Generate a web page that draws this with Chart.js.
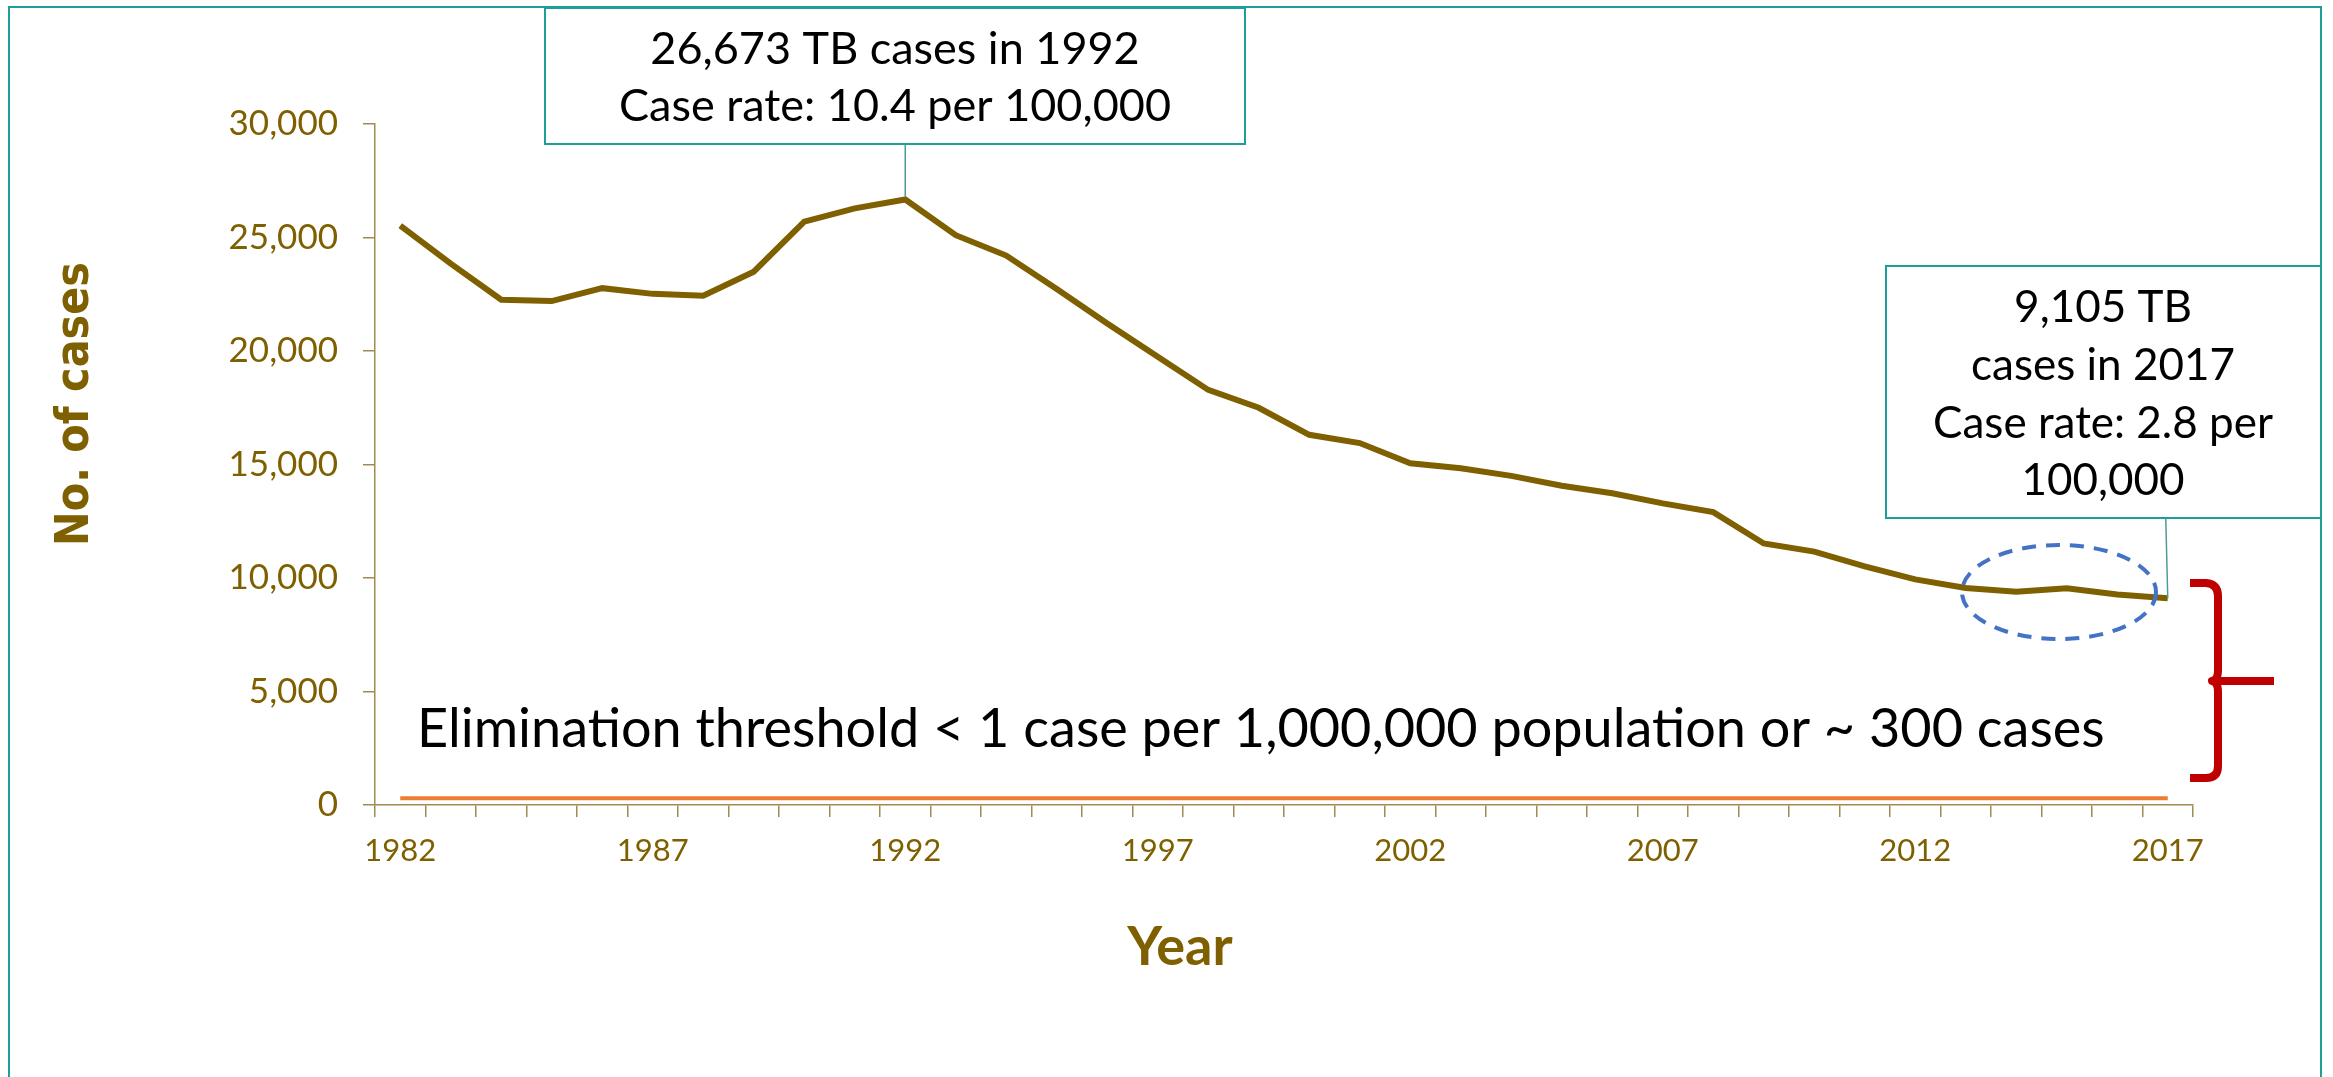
<!DOCTYPE html>
<html>
<head>
<meta charset="utf-8">
<title>TB cases, United States, 1982-2017</title>
<script src="https://cdn.jsdelivr.net/npm/chart.js@4"></script>
<style>
  html, body { margin: 0; padding: 0; background: #fff; }
  canvas { display: block; }
</style>
</head>
<body>
<canvas id="tbChart" width="2333" height="1077"></canvas>
<script>
const years = ['1982', '1983', '1984', '1985', '1986', '1987', '1988', '1989', '1990', '1991',
               '1992', '1993', '1994', '1995', '1996', '1997', '1998', '1999', '2000', '2001',
               '2002', '2003', '2004', '2005', '2006', '2007', '2008', '2009', '2010', '2011',
               '2012', '2013', '2014', '2015', '2016', '2017'];
const cases = [25520, 23846, 22255, 22201, 22768, 22517, 22436, 23495, 25701, 26283,
               26673, 25102, 24205, 22727, 21210, 19751, 18287, 17500, 16308, 15945,
               15055, 14835, 14499, 14065, 13732, 13288, 12904, 11520, 11161, 10510,
               9940, 9561, 9398, 9546, 9272, 9105];
// elimination threshold, ~300 cases, drawn across the whole period
const thresholdYears = ['1982', '2017'];
const thresholdCases = [300, 300];
const yTicks = [0, 5000, 10000, 15000, 20000, 25000, 30000];

const BROWN = '#7F6000';
const AXIS = '#A08C4E';
const TEAL = '#1E9E98';
const BODY_FONT = 'Lato';

function fmt(n) {
    return n.toLocaleString('en-US');
}

// boxes, callouts, brace and axis titles on top of the chart
const annotations = {
    id: 'annotations',
    afterDraw(chart) {
        const ctx = chart.ctx;
        const x = chart.scales.x;
        const y = chart.scales.y;
        ctx.save();

        // slide frame
        ctx.strokeStyle = TEAL;
        ctx.lineWidth = 2;
        ctx.strokeRect(9, 7, 2312, 1100);

        // axis titles
        ctx.fillStyle = BROWN;
        ctx.textAlign = 'center';
        ctx.textBaseline = 'middle';
        ctx.font = 'bold 54px ' + BODY_FONT;
        ctx.fillText('Year', 1180, 948);
        ctx.save();
        ctx.translate(76, 404);
        ctx.rotate(-Math.PI / 2);
        ctx.font = 'bold 46px "DejaVu Sans Condensed", "DejaVu Sans"';
        ctx.fillText('No. of cases', 0, 0);
        ctx.restore();

        // peak callout
        const peak = years.indexOf('1992');
        const px = x.getPixelForValue(peak);
        const py = y.getPixelForValue(cases[peak]);
        ctx.strokeStyle = '#4E9A9A';
        ctx.lineWidth = 1.5;
        ctx.beginPath();
        ctx.moveTo(px, 144);
        ctx.lineTo(px, py - 3);
        ctx.stroke();

        ctx.fillStyle = '#fff';
        ctx.fillRect(545, 8, 700, 136);
        ctx.strokeStyle = TEAL;
        ctx.lineWidth = 2;
        ctx.strokeRect(545, 8, 700, 136);
        ctx.fillStyle = '#000';
        ctx.font = '45px ' + BODY_FONT;
        ctx.fillText(fmt(cases[peak]) + ' TB cases in ' + years[peak], 895, 49);
        ctx.fillText('Case rate: 10.4 per 100,000', 895, 106);

        // latest-year callout
        const last = years.length - 1;
        const lx = x.getPixelForValue(last);
        const ly = y.getPixelForValue(cases[last]);
        ctx.strokeStyle = '#4E9A9A';
        ctx.lineWidth = 1.5;
        ctx.beginPath();
        ctx.moveTo(lx - 2, 518);
        ctx.lineTo(lx, ly);
        ctx.stroke();

        ctx.fillStyle = '#fff';
        ctx.fillRect(1886, 266, 435, 252);
        ctx.strokeStyle = TEAL;
        ctx.lineWidth = 2;
        ctx.strokeRect(1886, 266, 435, 252);
        ctx.fillStyle = '#000';
        ctx.font = '44px ' + BODY_FONT;
        ctx.fillText(fmt(cases[last]) + ' TB', 2103, 308);
        ctx.fillText('cases in ' + years[last], 2103, 366);
        ctx.fillText('Case rate: 2.8 per', 2103, 424);
        ctx.fillText('100,000', 2103, 481);

        // dashed ring round the recent plateau
        ctx.strokeStyle = '#4472C4';
        ctx.lineWidth = 4;
        ctx.setLineDash([14, 10]);
        ctx.beginPath();
        ctx.ellipse(2059, 592, 97, 47, 0, 0, Math.PI * 2);
        ctx.stroke();
        ctx.setLineDash([]);

        // red brace
        ctx.strokeStyle = '#C00000';
        ctx.lineWidth = 8;
        ctx.lineJoin = 'round';
        ctx.beginPath();
        ctx.moveTo(2190, 583);
        ctx.lineTo(2206, 583);
        ctx.quadraticCurveTo(2218, 584, 2218, 596);
        ctx.lineTo(2218, 670);
        ctx.quadraticCurveTo(2218, 680, 2212, 681);
        ctx.quadraticCurveTo(2218, 682, 2218, 692);
        ctx.lineTo(2218, 766);
        ctx.quadraticCurveTo(2218, 778, 2206, 778);
        ctx.lineTo(2190, 778);
        ctx.stroke();
        ctx.beginPath();
        ctx.moveTo(2216, 681);
        ctx.lineTo(2274, 681);
        ctx.stroke();

        // threshold note
        ctx.fillStyle = '#000';
        ctx.textAlign = 'left';
        ctx.font = '54px ' + BODY_FONT;
        ctx.fillText('Elimination threshold < 1 case per 1,000,000 population or ~ 300 cases', 417, 730);

        ctx.restore();
    }
};

document.addEventListener('DOMContentLoaded', function () {
    const ctx = document.getElementById('tbChart').getContext('2d');
    new Chart(ctx, {
        type: 'line',
        data: {
            labels: years,
            datasets: [{
                label: 'TB cases',
                data: cases,
                borderColor: BROWN,
                borderWidth: 6,
                pointRadius: 0,
                tension: 0,
                order: 1
            }, {
                label: 'Elimination threshold',
                data: thresholdYears.map((yr, i) => ({ x: yr, y: thresholdCases[i] })),
                borderColor: '#ED7D31',
                borderWidth: 4,
                pointRadius: 0,
                order: 2
            }]
        },
        options: {
            responsive: false,
            animation: false,
            devicePixelRatio: 1,
            layout: { padding: { left: 0, right: 140, top: 124, bottom: 0 } },
            plugins: {
                legend: { display: false },
                tooltip: { enabled: false }
            },
            scales: {
                x: {
                    type: 'category',
                    offset: true,
                    grid: {
                        offset: true,
                        drawOnChartArea: false,
                        drawTicks: true,
                        tickLength: 12,
                        color: AXIS,
                        lineWidth: 1.5
                    },
                    border: { display: true, color: AXIS, width: 1.5 },
                    ticks: {
                        autoSkip: false,
                        maxRotation: 0,
                        padding: 15,
                        color: BROWN,
                        font: { family: BODY_FONT, size: 31 },
                        callback: function (val, idx) {
                            return idx % 5 === 0 ? years[idx] : '';
                        }
                    },
                    afterFit: function (scale) { scale.height = 272; }
                },
                y: {
                    min: 0,
                    max: 30000,
                    afterBuildTicks: function (scale) {
                        scale.ticks = yTicks.map(v => ({ value: v }));
                    },
                    grid: {
                        drawOnChartArea: false,
                        drawTicks: true,
                        tickLength: 12,
                        color: AXIS,
                        lineWidth: 1.5
                    },
                    border: { display: true, color: AXIS, width: 1.5 },
                    ticks: {
                        padding: 25,
                        color: BROWN,
                        font: { family: BODY_FONT, size: 35 },
                        callback: v => fmt(v)
                    },
                    afterFit: function (scale) { scale.width = 375; }
                }
            }
        },
        plugins: [annotations]
    });
});
</script>
</body>
</html>
